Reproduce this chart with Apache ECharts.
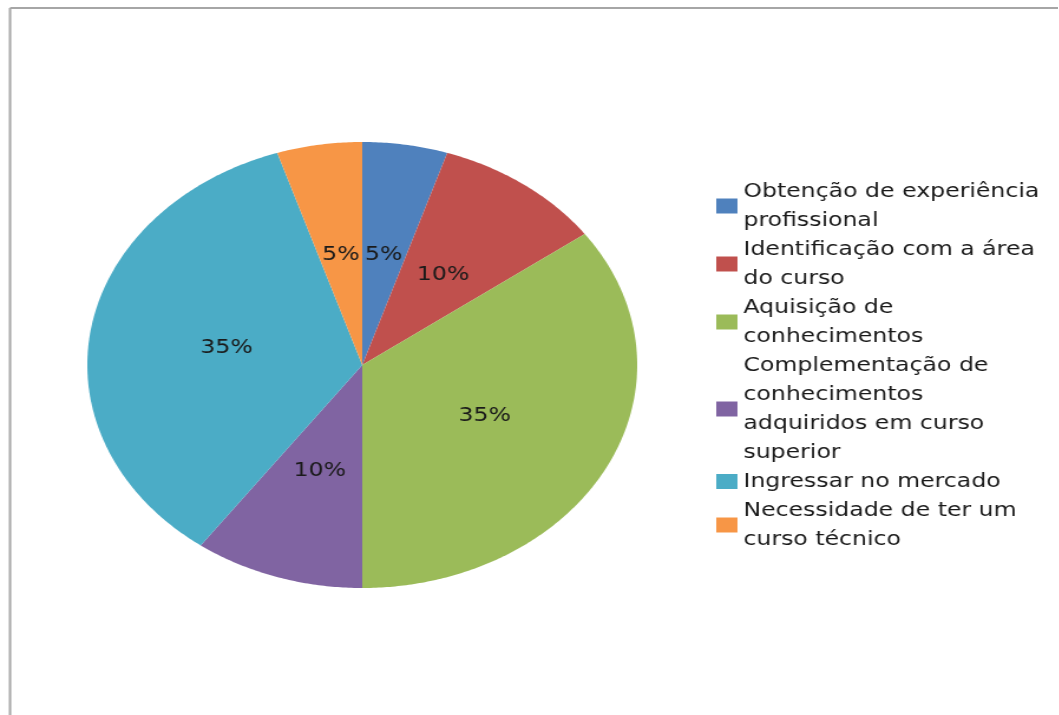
<!DOCTYPE html>
<html>
<head>
<meta charset="utf-8">
<script src="https://cdn.jsdelivr.net/npm/echarts@6/dist/echarts.min.js"></script>
<style>
  html, body { margin: 0; padding: 0; background: #fff; overflow: hidden; }
  /* the source picture is stretched sideways, text included */
  #chart { width: 897px; height: 715px; transform: scaleX(1.18); transform-origin: 0 0; }
</style>
</head>
<body>
<div id="chart"></div>
<script>
const categories = [
  'Obtenção de experiência profissional',
  'Identificação com a área do curso',
  'Aquisição de conhecimentos',
  'Complementação de conhecimentos adquiridos em curso superior',
  'Ingressar no mercado',
  'Necessidade de ter um curso técnico'
];
// wrapped legend text, same order as categories
const legendLines = [
  ['Obtenção de experiência', 'profissional'],
  ['Identificação com a área', 'do curso'],
  ['Aquisição de', 'conhecimentos'],
  ['Complementação de', 'conhecimentos', 'adquiridos em curso', 'superior'],
  ['Ingressar no mercado'],
  ['Necessidade de ter um', 'curso técnico']
];
const values = [5, 10, 35, 10, 35, 5];
const colors = ['#4F81BD', '#C0504D', '#9BBB59', '#8064A2', '#4BACC6', '#F79646'];

const total = values.reduce((a, b) => a + b, 0);
const cx = 307, cy = 365, rx = 233, ry = 223;

function renderSlice(params, api) {
  const i = params.seriesIndex;
  let before = 0;
  for (let k = 0; k < i; k++) before += values[k];
  const a0 = before / total * Math.PI * 2;
  const a1 = (before + values[i]) / total * Math.PI * 2;
  const pts = [[cx, cy]];
  const steps = Math.max(4, Math.ceil((a1 - a0) / 0.01));
  for (let s = 0; s <= steps; s++) {
    const a = a0 + (a1 - a0) * s / steps;
    pts.push([cx + rx * Math.sin(a), cy - ry * Math.cos(a)]);
  }
  const mid = (a0 + a1) / 2;
  return {
    type: 'group',
    children: [
      { type: 'polygon', shape: { points: pts }, style: { fill: colors[i] } },
      {
        type: 'text',
        z2: 10,
        style: {
          text: Math.round(values[i] / total * 100) + '%',
          x: cx + 0.5 * rx * Math.sin(mid),
          y: cy - 0.5 * ry * Math.cos(mid),
          align: 'center',
          verticalAlign: 'middle',
          font: '20px "DejaVu Sans"',
          fill: '#1a1a1a'
        }
      }
    ]
  };
}

const chart = echarts.init(document.getElementById('chart'));
const option = {
  animation: false,
  legend: {
    orient: 'vertical',
    left: 602,
    top: 172,
    itemGap: 0,
    itemWidth: 18,
    itemHeight: 15,
    icon: 'rect',
    data: categories,
    formatter: function (name) {
      return legendLines[categories.indexOf(name)].join('\n');
    },
    textStyle: {
      fontFamily: 'DejaVu Sans',
      fontSize: 20,
      lineHeight: 29,
      color: '#1a1a1a'
    }
  },
  graphic: [
    { type: 'line', shape: { x1: 8.5, y1: 8, x2: 897, y2: 8 }, style: { stroke: '#a6a6a6', lineWidth: 2 } },
    { type: 'line', shape: { x1: 8.5, y1: 8, x2: 8.5, y2: 715 }, style: { stroke: '#a6a6a6', lineWidth: 2 } }
  ],
  series: categories.map((name, i) => ({
    type: 'custom',
    name: name,
    coordinateSystem: 'none',
    itemStyle: { color: colors[i] },
    renderItem: renderSlice,
    data: [values[i]]
  }))
};
chart.setOption(option);
</script>
</body>
</html>
